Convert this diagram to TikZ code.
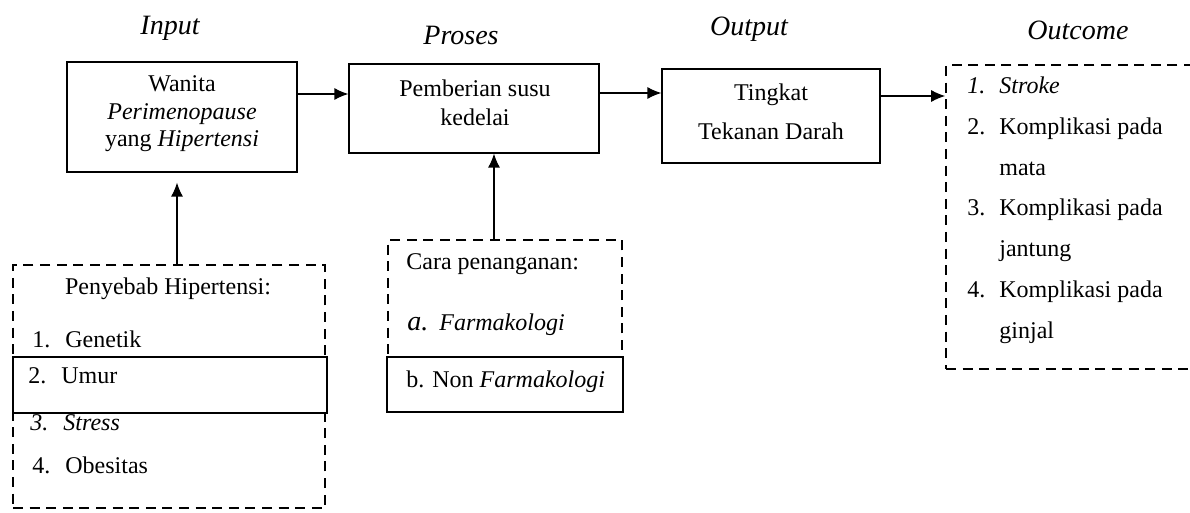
\documentclass[tikz,border=0pt]{standalone}
\usepackage{fontspec}
\setmainfont{Liberation Serif}
\usepackage{tikz}
\usetikzlibrary{arrows.meta,shapes}
\tikzstyle{title}=[font=\fontsize{14}{16}\selectfont\itshape]
\tikzstyle{box}=[draw, line width=0.6pt, fill=white
%,minimum size=12pt
,inner sep=0pt
]
\tikzstyle{dashed box}=[box, fill=none, dash pattern=on 5pt off 3.3pt, line width=0.8pt]
\tikzstyle{item}=[anchor=west, inner sep=0pt, text height=8pt, text depth=2.5pt]
\tikzstyle{arrow}=[draw, line width=0.6pt, -{Latex[length=7pt,width=6pt]}]

\begin{document}
\begin{tikzpicture}[x=0.5pt, y=-0.5pt, font=\fontsize{12}{14}\selectfont]
    \clip (0,0) rectangle (1190,513);
    % Titles of the four columns
    \foreach \pos/\name/\txt in {{(170,28)/tin/Input}, {(461,35)/tpro/Proses}, {(749,29)/tout/Output}, {(1078,30)/tres/Outcome}}
        \node[title] (\name) at \pos {\txt};

    % Main boxes
    \node[box, minimum width=115pt, minimum height=55pt] (input) at (182,117) {};
    \node[align=center, font=\fontsize{12}{13.8}\selectfont] (inputtxt) at (182,114)
        {Wanita\\ \textit{Perimenopause}\\ yang \textit{Hipertensi}};
    \node[box, minimum width=125pt, minimum height=44.5pt] (proses) at (474,108.5) {};
    \node[align=center, font=\fontsize{12}{14.5}\selectfont] (prosestxt) at (475,103)
        {Pemberian susu\\ kedelai};
    \node[box, minimum width=109pt, minimum height=47pt] (output) at (771,116) {};
    \node[align=center, font=\fontsize{12}{19.5}\selectfont] (outputtxt) at (771,112)
        {Tingkat\\ Tekanan Darah};

    % Outcome list
    \node[dashed box, minimum width=152pt, minimum height=152pt] (outcome) at (1098,217) {};
    \foreach \y/\num/\txt in {88/{\textit{1.}}/{\textit{Stroke}}, 129/2./Komplikasi pada, 170//mata,
        210/3./Komplikasi pada, 251//jantung, 292/4./Komplikasi pada, 333//ginjal}
        \node[item] (res\y) at (967,\y) {\makebox[16pt][l]{\num}\txt};

    % Causes of hypertension
    \node[dashed box, minimum width=156pt, minimum height=121.5pt] (causes) at (169,386.5) {};
    \node[box, minimum width=157pt, minimum height=28pt] (umur) at (170,385) {};
    \node (causestxt) at (168,289) {Penyebab Hipertensi:};
    \foreach \y/\x/\num/\txt/\name in {342/32/1./Genetik/gen, 378/28/2./Umur/umr,
        425/30/{\textit{3.}}/{\textit{Stress}}/str, 468/32/4./Obesitas/obe}
        \node[item] (\name) at (\x,\y) {\makebox[16.5pt][l]{\num}\txt};

    % Ways of handling
    \node[dashed box, minimum width=117pt, minimum height=62.5pt] (cara) at (505,302.5) {};
    \node[box, minimum width=118pt, minimum height=27.5pt] (nonfarm) at (505,384.5) {};
    \node[item] (caratxt) at (406,264) {Cara penanganan:};
    \node[item] (farm) at (407,325) {\makebox[16pt][l]{\fontsize{14}{14}\selectfont\itshape a.}\textit{Farmakologi}};
    \node[item] (nonfarmtxt) at (406,382) {b. Non \textit{Farmakologi}};

    % Connect boxes with arrows
    \draw[arrow] (input.east |- 0,94) -- (proses.west |- 0,94);
    \draw[arrow] (proses.east |- 0,93) -- (output.west |- 0,93);
    \draw[arrow] (output.east |- 0,96) -- (outcome.west |- 0,96);
    \draw[arrow, shorten >=5pt] (causes.north -| 177,0) -- (input.south -| 177,0);
    \draw[arrow] (cara.north -| 494,0) -- (proses.south -| 494,0);
\end{tikzpicture}
\end{document}
